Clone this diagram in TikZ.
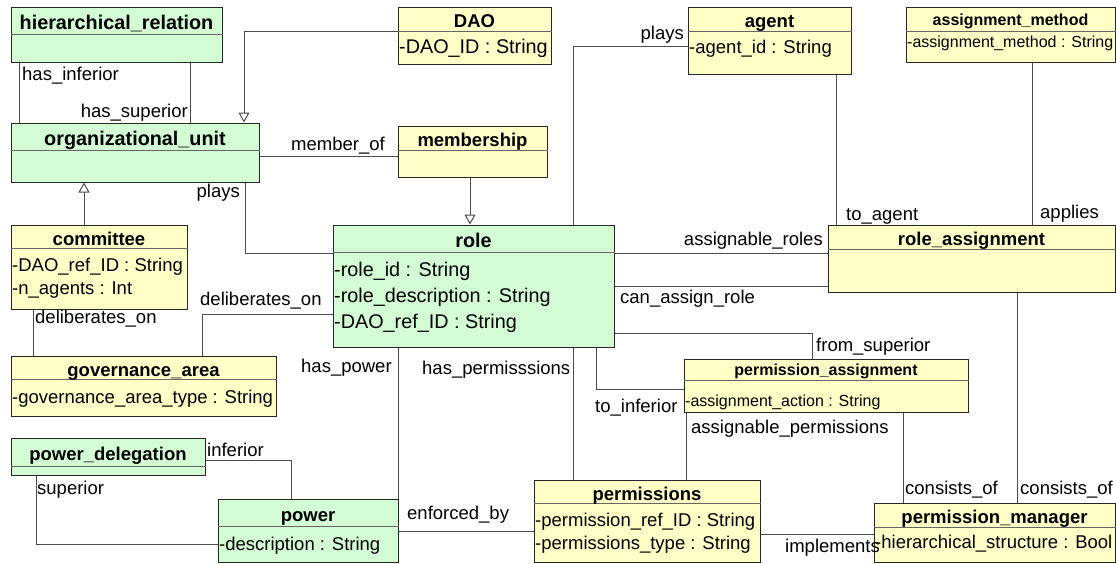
\documentclass[tikz,border=0pt]{standalone}
\usepackage{fontspec}
\setmainfont{Liberation Sans}
\usetikzlibrary{fit,arrows.meta}
\definecolor{classgreen}{RGB}{212,252,212}
\definecolor{classyellow}{RGB}{255,255,200}
\tikzset{
  classbox/.style={draw=black!85, line width=1pt, inner sep=0pt},
  classline/.style={draw=black!60, line width=0.8pt},
  titlebase/.style={anchor=base, inner sep=0pt},
  classtitle/.style={titlebase, font=\fontsize{18.5}{20}\selectfont\bfseries, yshift=-8.5pt},
  bigtitle/.style={titlebase, font=\fontsize{19.8}{21}\selectfont\bfseries, yshift=-8.5pt},
  smalltitle/.style={titlebase, font=\fontsize{16}{18}\selectfont\bfseries, yshift=-6pt},
  attr/.style={font=\fontsize{18.5}{20}\selectfont, anchor=base west, inner sep=0pt},
  bigattr/.style={attr, font=\fontsize{19.8}{21}\selectfont},
  smallattr/.style={attr, font=\fontsize{16}{18}\selectfont},
  lab/.style={font=\fontsize{18.5}{20}\selectfont, anchor=base west, inner sep=0pt},
  labr/.style={lab, anchor=base east},
  assoc/.style={draw=black!70, line width=1pt},
  generalize/.style={assoc, -{Triangle[open, length=10pt, width=11pt]}},
}
\newcommand{\umlclass}[9]{%
  \node[classbox, fill=#2, fit={(#3,#4) (#5,#6)}] (#1) {};
  \draw[classline] (#1.west |- 0,#7) -- (#1.east |- 0,#7);
  \node[#9] (#1-title) at ({(#3+#5)/2},{(#4+#7)/2}) {#8};
}
\begin{document}
\begin{tikzpicture}[x=1pt, y=-1pt]
\useasboundingbox[fill=white] (0,0) rectangle (1116,563);

\umlclass{hrel}{classgreen}{11}{7}{222}{62}{34}{hierarchical\_relation}{bigtitle}
\umlclass{orgunit}{classgreen}{11}{123}{259}{182}{150}{organizational\_unit}{bigtitle}
\umlclass{dao}{classyellow}{398}{7}{551}{64}{31}{DAO}{classtitle}
\umlclass{membership}{classyellow}{398}{126}{547}{177}{150}{membership}{classtitle}
\umlclass{agent}{classyellow}{688}{7}{851}{74}{31}{agent}{classtitle}
\umlclass{amethod}{classyellow}{906}{7}{1115}{62}{31}{assignment\_method}{smalltitle}
\umlclass{committee}{classyellow}{11}{225}{187}{309}{248}{committee}{classtitle}
\umlclass{garea}{classyellow}{11}{356}{276}{416}{379}{governance\_area}{classtitle}
\umlclass{role}{classgreen}{333}{225}{614}{347}{252}{role}{bigtitle}
\umlclass{rassign}{classyellow}{828}{225}{1115}{292}{249}{role\_assignment}{classtitle}
\umlclass{passign}{classyellow}{684}{359}{968}{412}{380}{permission\_assignment}{smalltitle}
\umlclass{pdeleg}{classgreen}{11}{438}{205}{475}{466}{power\_delegation}{classtitle}
\umlclass{power}{classgreen}{218}{499}{398}{562}{526}{power}{classtitle}
\umlclass{perms}{classyellow}{534}{480}{760}{562}{503}{permissions}{classtitle}
\umlclass{pmanager}{classyellow}{874}{503}{1115}{562}{527}{permission\_manager}{classtitle}

\node[bigattr] (dao-a1) at (399,53) {-DAO\_ID : String};
\node[attr] (agent-a1) at (689,53) {-agent\_id : String};
\node[smallattr] (amethod-a1) at (907,47) {-assignment\_method : String};
\node[attr] (committee-a1) at (12,271) {-DAO\_ref\_ID : String};
\node[attr] (committee-a2) at (12,294) {-n\_agents : Int};
\node[attr] (garea-a1) at (12,403) {-governance\_area\_type : String};
\node[bigattr] (role-a1) at (334,276) {-role\_id : String};
\node[bigattr] (role-a2) at (334,302) {-role\_description : String};
\node[bigattr] (role-a3) at (334,328) {-DAO\_ref\_ID : String};
\node[smallattr] (passign-a1) at (685,406) {-assignment\_action : String};
\node[attr] (power-a1) at (219,550) {-description : String};
\node[attr] (perms-a1) at (535,526) {-permission\_ref\_ID : String};
\node[attr] (perms-a2) at (535,549) {-permissions\_type : String};
\node[attr] (pmanager-a1) at (875,548) {-hierarchical\_structure : Bool};

\draw[assoc] (hrel.south -| 19,0) -- (orgunit.north -| 19,0);
\draw[assoc] (hrel.south -| 190,0) -- (orgunit.north -| 190,0);
\draw[generalize] (dao.west |- 0,31) -| (orgunit.north -| 244,0);
\draw[assoc] (orgunit.east |- 0,156) -- (membership.west |- 0,156);
\draw[generalize] (membership.south -| 470,0) -- (role.north -| 470,0);
\draw[assoc] (orgunit.south -| 245,0) |- (role.west |- 0,253);
\draw[generalize] (committee.north -| 84,0) -- (orgunit.south -| 84,0);
\draw[assoc] (committee.south -| 33,0) -- (garea.north -| 33,0);
\draw[assoc] (role.west |- 0,314) -| (garea.north -| 202,0);
\draw[assoc] (agent.west |- 0,46) -| (role.north -| 573,0);
\draw[assoc] (agent.south -| 836,0) -- (rassign.north -| 836,0);
\draw[assoc] (amethod.south -| 1032,0) -- (rassign.north -| 1032,0);
\draw[assoc] (role.east |- 0,253) -- (rassign.west |- 0,253);
\draw[assoc] (role.east |- 0,286) -- (rassign.west |- 0,286);
\draw[assoc] (role.east |- 0,333) -| (passign.north -| 812,0);
\draw[assoc] (role.south -| 596,0) |- (passign.west |- 0,389);
\draw[assoc] (role.south -| 573,0) -- (perms.north -| 573,0);
\draw[assoc] (role.south -| power.east) -- (power.north east);
\draw[assoc] (power.east |- 0,531) -- (perms.west |- 0,531);
\draw[assoc] (pdeleg.east |- 0,460) -| (power.north -| 291,0);
\draw[assoc] (pdeleg.south -| 36,0) |- (power.west |- 0,544);
\draw[assoc] (passign.south -| 686,0) -- (perms.north -| 686,0);
\draw[assoc] (passign.south -| 903,0) -- (pmanager.north -| 903,0);
\draw[assoc] (rassign.south -| 1017,0) -- (pmanager.north -| 1017,0);
\draw[assoc] (perms.east |- 0,534) -- (pmanager.west |- 0,534);

\node[lab] (l-hasinf) at (22,80) {has\_inferior};
\node[labr] (l-hassup) at (188,117) {has\_superior};
\node[lab] (l-member) at (291,150) {member\_of};
\node[labr] (l-plays1) at (240,197) {plays};
\node[labr] (l-plays2) at (684,39) {plays};
\node[lab] (l-toagent) at (846,220) {to\_agent};
\node[lab] (l-applies) at (1040,218) {applies};
\node[labr] (l-assroles) at (823,245) {assignable\_roles};
\node[lab] (l-canassign) at (620,303) {can\_assign\_role};
\node[lab] (l-fromsup) at (816,351) {from\_superior};
\node[lab] (l-toinf) at (595,412) {to\_inferior};
\node[lab] (l-assperms) at (691,433) {assignable\_permissions};
\node[lab] (l-hasperms) at (422,374) {has\_permisssions};
\node[lab] (l-haspower) at (301,372) {has\_power};
\node[lab] (l-delib1) at (35,323) {deliberates\_on};
\node[lab] (l-delib2) at (200,305) {deliberates\_on};
\node[lab] (l-inferior) at (207,456) {inferior};
\node[lab] (l-superior) at (37,494) {superior};
\node[lab] (l-enforced) at (407,519) {enforced\_by};
\node[lab] (l-implements) at (785,552) {implements};
\node[lab] (l-consists1) at (905,494) {consists\_of};
\node[lab] (l-consists2) at (1020,494) {consists\_of};
\end{tikzpicture}
\end{document}
